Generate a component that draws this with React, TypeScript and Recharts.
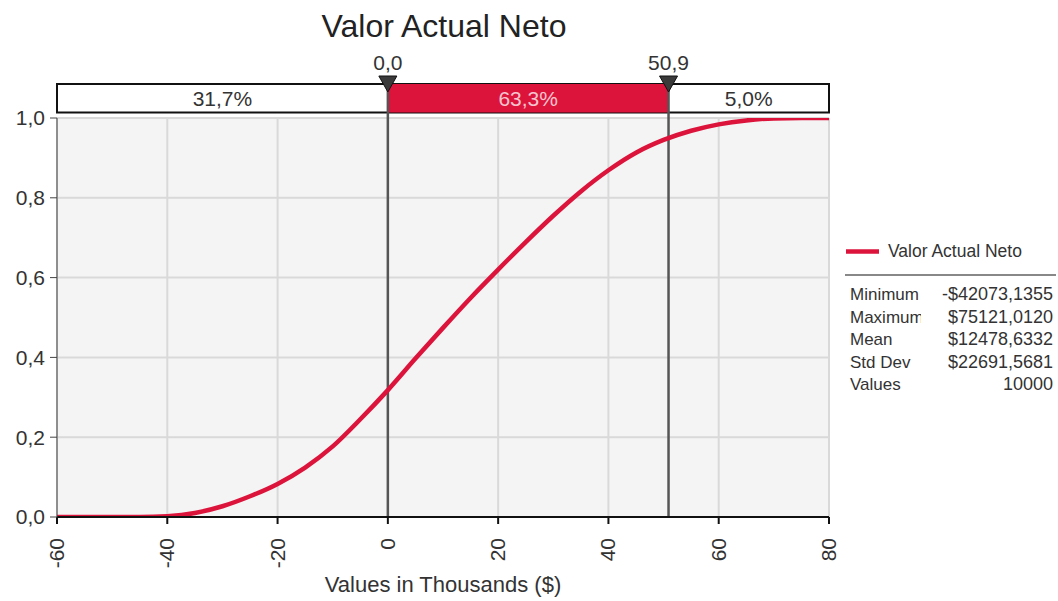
import React from 'react';
import { LineChart, Line, XAxis, YAxis, CartesianGrid, ReferenceArea, ReferenceLine } from 'recharts';

const xValues = [-60, -55, -50, -45, -40, -35, -30, -25, -20, -15, -10, -5, 0, 5, 10, 15, 20, 25, 30, 35, 40, 45, 50, 55, 60, 65, 70, 75, 80];
const cdfValues = [0, 0, 0, 0, 0.002, 0.01, 0.027, 0.052, 0.083, 0.124, 0.177, 0.245, 0.318, 0.397, 0.474, 0.549, 0.62, 0.689, 0.755, 0.816, 0.869, 0.913, 0.945, 0.968, 0.984, 0.994, 0.999, 1, 1];
const xTicks = [-60, -40, -20, 0, 20, 40, 60, 80];
const yTicks = [0, 0.2, 0.4, 0.6, 0.8, 1];
const markerValues = [0, 50.9];
const markerLabels = ['0,0', '50,9'];
const segmentEdges = [-60, 0, 50.9, 80];
const segmentLabels = ['31,7%', '63,3%', '5,0%'];
const statLabels = ['Minimum', 'Maximum', 'Mean', 'Std Dev', 'Values'];
const statValues = ['-$42073,1355', '$75121,0120', '$12478,6332', '$22691,5681', '10000'];

const seriesName = 'Valor Actual Neto';
const titleText = 'Valor Actual Neto';
const xAxisTitle = 'Values in Thousands ($)';

const data = xValues.map((x, i) => ({ x, p: cdfValues[i] }));

const RED = '#dc143c';
const FONT = '"Liberation Sans", Arial, sans-serif';
const BAR_BOTTOM = 1.0135;
const BAR_TOP = 1.0855;

const fmtY = (v: number) => v.toFixed(1).replace('.', ',');

const XTick = (props: any) => {
  const { x, y, payload } = props;
  return (
    <g transform={`translate(${x},${y})`}>
      <text transform="rotate(-90)" x={-14} y={7} textAnchor="end" fontSize={21} fill="#333" fontFamily={FONT}>
        {String(payload.value)}
      </text>
    </g>
  );
};

const makeMarkerLabel = (text: string) => (p: any) => {
  const vb = p.viewBox || {};
  const x = vb.x;
  const top = vb.y;
  return (
    <g>
      <line x1={x} x2={x} y1={top - 34} y2={top} stroke="#555" strokeWidth={2.5} />
      <polygon points={`${x - 9},${top - 42} ${x + 9},${top - 42} ${x},${top - 26}`} fill="#3a3a3a" stroke="#111" strokeWidth={1} />
      <text x={x} y={top - 48} textAnchor="middle" fontSize={21} fill="#333" fontFamily={FONT}>{text}</text>
    </g>
  );
};

export default function App() {
  return (
    <div style={{ position: 'absolute', left: 0, top: 0, width: 1058, height: 601, background: '#fff' }}>
      <LineChart
        width={1058}
        height={601}
        data={data}
        margin={{ top: 118, right: 229, bottom: 24, left: 0 }}
        style={{ position: 'absolute', left: 0, top: 0 }}
      >
        <CartesianGrid stroke="#d9d9d9" strokeWidth={2} fill="#f4f4f4" />
        <XAxis
          dataKey="x"
          type="number"
          domain={[-60, 80]}
          ticks={xTicks}
          height={60}
          tickSize={7}
          tickMargin={0}
          stroke="#111"
          strokeWidth={2}
          tick={<XTick />}
          interval={0}
          allowDataOverflow
        />
        <YAxis
          type="number"
          domain={[0, 1]}
          ticks={yTicks}
          width={57}
          tickSize={7}
          tickMargin={5}
          stroke="#444"
          tickFormatter={fmtY}
          tick={{ fontSize: 21, fill: '#333', fontFamily: FONT }}
          interval={0}
          allowDataOverflow
        />
        <ReferenceArea x1={-60} x2={80} y1={BAR_BOTTOM} y2={BAR_TOP} fill="#ffffff" fillOpacity={1} stroke="#111" strokeWidth={2} ifOverflow="visible" />
        {segmentLabels.map((lab, i) => (
          <ReferenceArea
            key={lab}
            x1={segmentEdges[i]}
            x2={segmentEdges[i + 1]}
            y1={BAR_BOTTOM}
            y2={BAR_TOP}
            fill={i === 1 ? RED : 'none'}
            fillOpacity={1}
            ifOverflow="visible"
            label={{ value: lab, position: 'center', fontSize: 21, fill: i === 1 ? '#f6c4ce' : '#333', fontFamily: FONT }}
          />
        ))}
        {markerValues.map((v, i) => (
          <ReferenceLine key={v} x={v} stroke="#555" strokeWidth={2.5} ifOverflow="visible" label={makeMarkerLabel(markerLabels[i])} />
        ))}
        <Line type="monotone" dataKey="p" stroke={RED} strokeWidth={4.5} dot={false} isAnimationActive={false} name={seriesName} />
      </LineChart>
      <svg width={1058} height={601} style={{ position: 'absolute', left: 0, top: 0, pointerEvents: 'none' }}>
        <defs>
          <clipPath id="labClip"><rect x={845} y={270} width={76} height={130} /></clipPath>
          <clipPath id="valClip"><rect x={925} y={270} width={128} height={130} /></clipPath>
        </defs>
        <text x={444} y={37} textAnchor="middle" fontSize={32} fill="#222" fontFamily={FONT}>{titleText}</text>
        <text x={443} y={592} textAnchor="middle" fontSize={22} fill="#333" fontFamily={FONT}>{xAxisTitle}</text>
        <line x1={846} x2={879} y1={251.5} y2={251.5} stroke={RED} strokeWidth={4.5} />
        <text x={888} y={257} fontSize={17.5} fill="#333" fontFamily={FONT}>{seriesName}</text>
        <line x1={845} x2={1056} y1={275} y2={275} stroke="#888" strokeWidth={2} />
        {statLabels.map((lab, i) => (
          <text key={lab} x={850} y={300 + i * 22.5} fontSize={17} fill="#333" fontFamily={FONT} clipPath="url(#labClip)">{lab}</text>
        ))}
        {statValues.map((val, i) => (
          <text
            key={val}
            x={i === 0 ? 942 : 1053}
            y={300 + i * 22.5}
            textAnchor={i === 0 ? 'start' : 'end'}
            fontSize={18}
            fill="#333"
            fontFamily={FONT}
            clipPath="url(#valClip)"
          >
            {val}
          </text>
        ))}
      </svg>
    </div>
  );
}
